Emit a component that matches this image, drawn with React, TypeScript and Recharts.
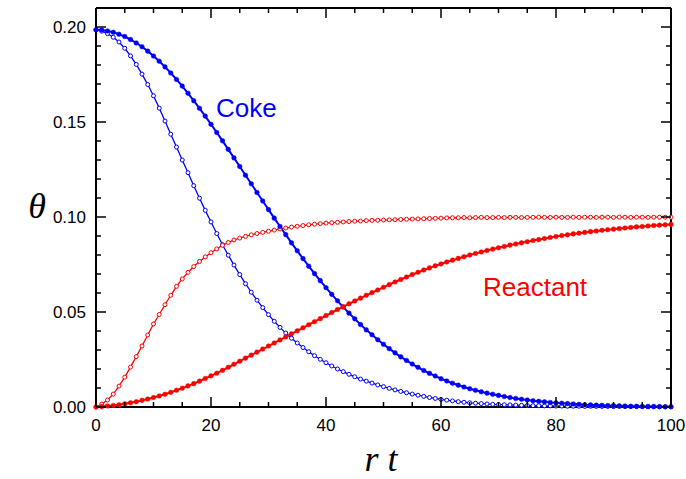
import { Line, LineChart, XAxis, YAxis } from 'recharts'

// r t, one sample per unit
const rt = [
  0, 1, 2, 3, 4, 5, 6, 7, 8, 9, 10, 11, 12, 13, 14, 15, 16, 17, 18, 19, 20,
  21, 22, 23, 24, 25, 26, 27, 28, 29, 30, 31, 32, 33, 34, 35, 36, 37, 38, 39, 40,
  41, 42, 43, 44, 45, 46, 47, 48, 49, 50, 51, 52, 53, 54, 55, 56, 57, 58, 59, 60,
  61, 62, 63, 64, 65, 66, 67, 68, 69, 70, 71, 72, 73, 74, 75, 76, 77, 78, 79, 80,
  81, 82, 83, 84, 85, 86, 87, 88, 89, 90, 91, 92, 93, 94, 95, 96, 97, 98, 99, 100,
]

// coke, open markers (fast decay)
const cokeOpen = [
  0.1985, 0.1978, 0.1965, 0.1946, 0.1921, 0.1888, 0.1848, 0.1803, 0.1752, 0.1697, 0.1638,
  0.1573, 0.1505, 0.1436, 0.1368, 0.13, 0.1233, 0.1165, 0.1099, 0.1035, 0.0974,
  0.0913, 0.0854, 0.0799, 0.0747, 0.0697, 0.0649, 0.0604, 0.0562, 0.0523, 0.0486,
  0.0451, 0.0419, 0.0389, 0.0362, 0.0337, 0.0313, 0.0291, 0.027, 0.0251, 0.0233,
  0.0216, 0.02, 0.0186, 0.0172, 0.0159, 0.0147, 0.0136, 0.0126, 0.0116, 0.0107,
  0.0098, 0.009, 0.0082, 0.0075, 0.0068, 0.0062, 0.0056, 0.005, 0.0045, 0.004,
  0.0036, 0.0032, 0.0028, 0.0025, 0.0022, 0.002, 0.0018, 0.0016, 0.0014, 0.0013,
  0.0012, 0.0011, 0.001, 0.0009, 0.0008, 0.0007, 0.0007, 0.0006, 0.0006, 0.0005,
  0.0005, 0.0004, 0.0004, 0.0004, 0.0003, 0.0004, 0.0003, 0.0003, 0.0003, 0.0002,
  0.0003, 0.0002, 0.0002, 0.0002, 0.0002, 0.0001, 0.0002, 0.0001, 0.0001, 0.0001,
]

// coke, filled markers (slow decay)
const cokeFilled = [
  0.1985, 0.1984, 0.1979, 0.1972, 0.1962, 0.195, 0.1934, 0.1916, 0.1896, 0.1873, 0.1847,
  0.182, 0.179, 0.1758, 0.1724, 0.1689, 0.1651, 0.1612, 0.1572, 0.1531, 0.1488,
  0.1445, 0.1401, 0.1356, 0.1311, 0.1266, 0.122, 0.1175, 0.1129, 0.1084, 0.1039,
  0.0994, 0.095, 0.0907, 0.0864, 0.0822, 0.0781, 0.0741, 0.0702, 0.0665, 0.0628,
  0.0593, 0.0559, 0.0526, 0.0494, 0.0464, 0.0434, 0.0406, 0.038, 0.0354, 0.033,
  0.0307, 0.0285, 0.0264, 0.0245, 0.0226, 0.0209, 0.0192, 0.0177, 0.0163, 0.0149,
  0.0137, 0.0125, 0.0115, 0.0105, 0.0096, 0.0088, 0.008, 0.0073, 0.0067, 0.0061,
  0.0055, 0.005, 0.0045, 0.0041, 0.0037, 0.0033, 0.003, 0.0027, 0.0024, 0.0022,
  0.002, 0.0018, 0.0016, 0.0014, 0.0012, 0.0011, 0.001, 0.0009, 0.0008, 0.0007,
  0.0006, 0.0005, 0.0004, 0.0004, 0.0003, 0.0003, 0.0002, 0.0002, 0.0001, 0.0001,
]

// reactant, open markers (fast rise)
const reactantOpen = [
  0, 0.0015, 0.0037, 0.0068, 0.011, 0.0157, 0.021, 0.0265, 0.0321, 0.0379, 0.0437,
  0.0487, 0.0538, 0.0588, 0.0635, 0.0674, 0.0709, 0.0739, 0.0766, 0.079, 0.0812,
  0.0832, 0.0851, 0.0866, 0.0879, 0.0889, 0.0898, 0.0906, 0.0913, 0.0919, 0.0925,
  0.0931, 0.0937, 0.0942, 0.0947, 0.0951, 0.0955, 0.0959, 0.0962, 0.0965, 0.0968,
  0.097, 0.0972, 0.0974, 0.0976, 0.0978, 0.0979, 0.0981, 0.0982, 0.0983, 0.0984,
  0.0985, 0.0986, 0.0987, 0.0988, 0.0989, 0.099, 0.0991, 0.0992, 0.0993, 0.0994,
  0.0995, 0.0996, 0.0996, 0.0997, 0.0996, 0.0997, 0.0998, 0.0997, 0.0997, 0.0998,
  0.0997, 0.0998, 0.0998, 0.0997, 0.0998, 0.0998, 0.0999, 0.0998, 0.0998, 0.0999,
  0.0998, 0.0998, 0.0999, 0.0998, 0.0999, 0.0999, 0.0998, 0.0999, 0.0999, 0.0998,
  0.0999, 0.0999, 0.0998, 0.0999, 0.0999, 0.0998, 0.0999, 0.0999, 0.0999, 0.0999,
]

// reactant, filled markers (slow rise)
const reactantFilled = [
  0, 0.0002, 0.0005, 0.0008, 0.0012, 0.0017, 0.0022, 0.0028, 0.0035, 0.0042, 0.005,
  0.0058, 0.0067, 0.0077, 0.0088, 0.0099, 0.0111, 0.0123, 0.0136, 0.015, 0.0164,
  0.0178, 0.0193, 0.0209, 0.0225, 0.0241, 0.0257, 0.0273, 0.0289, 0.0305, 0.0321,
  0.0337, 0.0353, 0.0369, 0.0385, 0.0401, 0.0417, 0.0433, 0.0449, 0.0465, 0.0481,
  0.0497, 0.0513, 0.0528, 0.0543, 0.0558, 0.0573, 0.0588, 0.0602, 0.0616, 0.063,
  0.0644, 0.0658, 0.0671, 0.0684, 0.0697, 0.0709, 0.0721, 0.0732, 0.0743, 0.0753,
  0.0763, 0.0773, 0.0782, 0.0791, 0.08, 0.0808, 0.0816, 0.0824, 0.0831, 0.0838,
  0.0845, 0.0852, 0.0858, 0.0864, 0.087, 0.0876, 0.0881, 0.0887, 0.0892, 0.0897,
  0.0902, 0.0906, 0.0911, 0.0915, 0.0919, 0.0923, 0.0926, 0.093, 0.0933, 0.0936,
  0.0939, 0.0942, 0.0945, 0.0948, 0.095, 0.0953, 0.0955, 0.0957, 0.0959, 0.0961,
]

const xTicks = [0, 5, 10, 15, 20, 25, 30, 35, 40, 45, 50, 55, 60, 65, 70, 75, 80, 85, 90, 95, 100]
const yTicks = [
  0, 0.01, 0.02, 0.03, 0.04, 0.05, 0.06, 0.07, 0.08, 0.09, 0.1,
  0.11, 0.12, 0.13, 0.14, 0.15, 0.16, 0.17, 0.18, 0.19, 0.2,
]

const BLUE = '#0000FF'
const RED = '#FF0000'
const SANS = '"Liberation Sans", Arial, sans-serif'
const SERIF = '"Liberation Serif", "Times New Roman", serif'

const data = rt.map((t, i) => ({
  rt: t,
  cokeOpen: cokeOpen[i],
  cokeFilled: cokeFilled[i],
  reactantOpen: reactantOpen[i],
  reactantFilled: reactantFilled[i],
}))

const xMajor = (v: number) => v % 20 === 0
const yMajor = (v: number) => Math.round(v * 100) % 5 === 0

const BottomTick = ({ x, y, payload }: any) => {
  const major = xMajor(payload.value)
  return (
    <g>
      <line x1={x} x2={x} y1={y} y2={y - (major ? 10 : 5)} stroke="#000" strokeWidth={1.5} />
      {major && (
        <text x={x} y={y + 24} textAnchor="middle" fontSize={17} fontFamily={SANS} fill="#000">
          {payload.value}
        </text>
      )}
    </g>
  )
}

const TopTick = ({ x, y, payload }: any) => (
  <line x1={x} x2={x} y1={y} y2={y + (xMajor(payload.value) ? 10 : 5)} stroke="#000" strokeWidth={1.5} />
)

const LeftTick = ({ x, y, payload }: any) => {
  const major = yMajor(payload.value)
  return (
    <g>
      <line x1={x} x2={x + (major ? 10 : 5)} y1={y} y2={y} stroke="#000" strokeWidth={1.5} />
      {major && (
        <text x={x - 10} y={y + 6} textAnchor="end" fontSize={17} fontFamily={SANS} fill="#000">
          {payload.value.toFixed(2)}
        </text>
      )}
    </g>
  )
}

const RightTick = ({ x, y, payload }: any) => (
  <line x1={x} x2={x - (yMajor(payload.value) ? 10 : 5)} y1={y} y2={y} stroke="#000" strokeWidth={1.5} />
)

const axisLine = { stroke: '#000', strokeWidth: 2 }

export default function App() {
  return (
    <div style={{ position: 'absolute', left: 0, top: 0, width: 686, height: 479, background: '#fff' }}>
      <LineChart width={686} height={479} data={data} margin={{ top: 7, right: 14, bottom: 42, left: 36 }}>
        <XAxis
          xAxisId="bottom"
          dataKey="rt"
          type="number"
          domain={[0, 100]}
          ticks={xTicks}
          interval={0}
          height={30}
          tickSize={0}
          tickMargin={0}
          tickLine={false}
          stroke="#000"
          axisLine={axisLine}
          tick={BottomTick}
        />
        <XAxis
          xAxisId="top"
          orientation="top"
          dataKey="rt"
          type="number"
          domain={[0, 100]}
          ticks={xTicks}
          interval={0}
          height={1}
          tickSize={0}
          tickMargin={0}
          tickLine={false}
          stroke="#000"
          axisLine={axisLine}
          tick={TopTick}
        />
        <YAxis
          yAxisId="left"
          type="number"
          domain={[0, 0.21]}
          ticks={yTicks}
          interval={0}
          width={60}
          tickSize={0}
          tickMargin={0}
          tickLine={false}
          stroke="#000"
          axisLine={axisLine}
          tick={LeftTick}
        />
        <YAxis
          yAxisId="right"
          orientation="right"
          type="number"
          domain={[0, 0.21]}
          ticks={yTicks}
          interval={0}
          width={1}
          tickSize={0}
          tickMargin={0}
          tickLine={false}
          stroke="#000"
          axisLine={axisLine}
          tick={RightTick}
        />
        {/* keeps the mirrored axes bound to data */}
        <Line xAxisId="top" yAxisId="right" dataKey="reactantOpen" stroke="none" dot={false} activeDot={false} isAnimationActive={false} />
        <Line
          xAxisId="bottom"
          yAxisId="left"
          dataKey="cokeOpen"
          stroke={BLUE}
          strokeWidth={1.3}
          dot={{ r: 2, fill: '#fff', stroke: BLUE, strokeWidth: 1 }}
          isAnimationActive={false}
        />
        <Line
          xAxisId="bottom"
          yAxisId="left"
          dataKey="reactantOpen"
          stroke={RED}
          strokeWidth={1.3}
          dot={{ r: 2, fill: '#fff', stroke: RED, strokeWidth: 1 }}
          isAnimationActive={false}
        />
        <Line
          xAxisId="bottom"
          yAxisId="left"
          dataKey="cokeFilled"
          stroke={BLUE}
          strokeWidth={2}
          dot={{ r: 2.3, fill: BLUE, stroke: BLUE, strokeWidth: 0.5 }}
          isAnimationActive={false}
        />
        <Line
          xAxisId="bottom"
          yAxisId="left"
          dataKey="reactantFilled"
          stroke={RED}
          strokeWidth={2}
          dot={{ r: 2.3, fill: RED, stroke: RED, strokeWidth: 0.5 }}
          isAnimationActive={false}
        />
      </LineChart>
      <svg width={686} height={479} style={{ position: 'absolute', left: 0, top: 0, pointerEvents: 'none' }}>
        <text x={216} y={117} fontSize={26} fontFamily={SANS} fill={BLUE}>Coke</text>
        <text x={483} y={296} fontSize={26} fontFamily={SANS} fill={RED}>Reactant</text>
        <text x={37} y={218} textAnchor="middle" fontSize={36} fontStyle="italic" fontFamily={SERIF} fill="#000">θ</text>
        <text x={381} y={471} textAnchor="middle" fontSize={36} fontStyle="italic" fontFamily={SERIF} fill="#000">r t</text>
      </svg>
    </div>
  )
}
